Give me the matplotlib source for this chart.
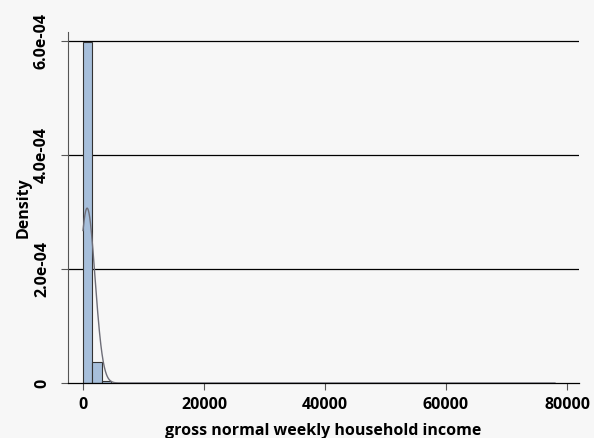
import numpy as np
import matplotlib.pyplot as plt

# histogram bins (density), bin width ~1560
bin_edges = [0, 1560, 3120, 4680, 78000]
densities = [5.98e-4, 3.63e-5, 4.0e-6, 0.0]

# fitted normal overlay
mu = 680
sd = 1300

y_ticks = [0, 2e-4, 4e-4, 6e-4]
y_labels = ["0", "2.0e-04", "4.0e-04", "6.0e-04"]
x_ticks = [0, 20000, 40000, 60000, 80000]

bg = "#f7f7f7"
plt.rcParams['font.family'] = ['Open Sans', 'DejaVu Sans']

fig = plt.figure(figsize=(5.94, 4.38), dpi=100, facecolor=bg)
ax = fig.add_axes([68/594, 55/438, 511/594, 351/438], facecolor=bg)

lefts = bin_edges[:-1]
widths = np.diff(bin_edges)
ax.bar(lefts, densities, width=widths, align='edge', color="#a7bfdb",
       edgecolor="#333333", linewidth=0.8, zorder=2)

xs = np.linspace(0, 78000, 4000)
ys = np.exp(-(xs - mu) ** 2 / (2 * sd ** 2)) / (sd * np.sqrt(2 * np.pi))
ax.plot(xs, ys, color="#6e6e78", linewidth=1.0, zorder=3)

for t in y_ticks[1:]:
    ax.axhline(t, color="black", linewidth=0.9, zorder=1)

ax.set_xlim(-2480, 81980)
ax.set_ylim(0, 6.16e-4)
ax.set_yticks(y_ticks)
ax.set_yticklabels(y_labels, rotation=90, va='center', fontweight='bold', fontsize=11.5)
ax.set_xticks(x_ticks)
ax.set_xticklabels([str(v) for v in x_ticks], fontweight='bold', fontsize=11.5)
ax.tick_params(axis='both', length=5, width=0.8, color="#555555")
ax.tick_params(axis='y', pad=8)
ax.tick_params(axis='x', pad=5)

for s in ['top', 'right']:
    ax.spines[s].set_visible(False)
ax.spines['left'].set_color("#555555")
ax.spines['left'].set_linewidth(0.8)
ax.spines['bottom'].set_color("black")
ax.spines['bottom'].set_linewidth(0.9)

ax.set_ylabel("Density", fontweight='bold', fontsize=11.5, labelpad=2)
ax.set_xlabel("gross normal weekly household income", fontweight='bold', fontsize=11.5, labelpad=7)

fig.savefig("out.png", dpi=100, facecolor=bg)
